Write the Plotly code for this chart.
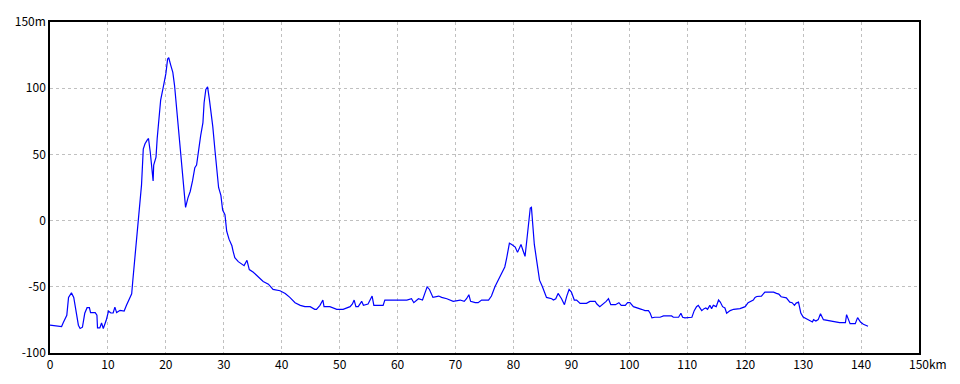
import plotly.graph_objects as go

km = [0, 2.0, 2.3, 2.9, 3.2, 3.7, 4.1, 4.5, 4.9, 5.2, 5.6, 6.0, 6.4, 6.8, 7.0, 7.8, 8.1, 8.2, 8.6, 8.9,
      9.2, 9.7, 10.1, 10.5, 10.9, 11.2, 11.5, 12.1, 12.8, 13.2, 13.8, 14.1, 14.3, 14.6, 14.9,
      15.2, 15.5, 15.8, 16.1, 16.4, 16.8, 17.0, 17.3, 17.6, 17.8, 17.9, 18.3, 18.5, 18.9, 19.1,
      19.6, 20.0, 20.3, 20.5, 20.8, 21.2, 21.5, 21.8, 22.0, 22.4, 22.8, 23.1, 23.4, 23.8, 24.2,
      24.6, 25.0, 25.3, 25.6, 26.0, 26.4, 26.6, 26.9, 27.2, 27.5, 27.8, 28.1, 28.5, 28.8, 29.1,
      29.5, 29.8, 30.2, 30.5, 30.9, 31.4, 31.6, 31.9, 32.5, 33.1, 33.5, 34.0, 34.4, 35.1, 36.0,
      36.8, 37.7, 38.5, 39.7, 40.6, 41.4, 42.3, 43.2, 44.0, 44.9, 45.7, 46.0, 46.6, 47.1, 47.3,
      48.3, 49.5, 50.6, 51.8, 52.2, 52.5, 52.8, 53.2, 53.8, 54.1, 54.9, 55.4, 55.6, 55.9, 57.5,
      57.8, 58.7, 60.4, 61.6, 62.4, 62.8, 63.6, 64.3, 64.7, 65.1, 65.5, 66.1, 67.1, 67.6, 68.5,
      69.6, 70.8, 71.5, 71.9, 72.3, 72.6, 73.4, 73.9, 74.5, 75.7, 76.2, 76.8, 77.4, 78.0, 78.5,
      78.8, 79.3, 79.7, 80.3, 80.7, 81.3, 81.6, 82.0, 82.3, 82.6, 82.9, 83.1, 83.3, 83.6, 84.0,
      84.5, 85.0, 85.7, 86.6, 86.9, 87.3, 87.7, 88.3, 88.8, 89.2, 89.6, 90.0, 90.5, 90.9, 91.5,
      92.6, 93.2, 94.1, 94.4, 94.9, 95.5, 96.0, 96.4, 96.8, 97.6, 98.2, 98.6, 99.3, 99.7, 100.1,
      100.7, 101.6, 102.1, 102.7, 103.3, 103.6, 103.9, 104.4, 105.3, 105.9, 107.3, 107.6, 108.5,
      108.9, 109.2, 109.6, 110.8, 111.2, 111.6, 111.9, 112.5, 112.9, 113.2, 113.5, 113.9, 114.2,
      114.5, 115.0, 115.4, 115.7, 116.1, 116.5, 116.8, 117.4, 118.0, 119.1, 120.0, 120.5, 120.8,
      121.4, 121.7, 122.0, 122.8, 123.4, 123.6, 124.9, 125.4, 125.8, 126.2, 127.1, 127.7, 128.1,
      128.5, 128.8, 129.2, 129.6, 130.0, 130.6, 131.2, 131.6, 131.8, 132.2, 132.6, 133.0, 133.5,
      134.1, 135.2, 136.3, 137.3, 137.5, 138.1, 139.0, 139.4, 139.9, 140.4, 141.2]

elev = [-79, -80, -77, -71.5, -58, -54.6, -58, -70, -79, -81.5, -80.5, -70, -65.8, -65.8, -69.5, -69.5, -71.5, -81, -81, -77.3,
        -81.5, -75.3, -68.3, -69.8, -69.8, -65.4, -69.5, -67.8, -68.3, -64, -59, -55.3, -45, -30, -15,
        1, 18, 27, 54, 58, 61, 62, 52, 36, 30, 42, 48, 62, 79, 91,
        102, 111, 122, 123, 118, 112, 102, 88, 74, 57, 36, 22, 10, 17, 22,
        30, 40, 42, 52, 64, 74, 89, 99, 101, 92, 82, 71, 52, 39, 25,
        19, 8, 4.5, -8, -14, -19, -23, -28, -31, -33, -34, -30, -37, -39, -43,
        -46, -48, -52, -53, -55, -58, -62, -64, -65, -65, -67, -67, -64, -60, -65,
        -65, -67, -67, -65, -63, -60, -65, -65, -61, -64, -63, -58, -57, -64, -64,
        -60, -60, -60.5, -60, -59, -62, -59, -60, -55, -50, -52, -58, -57, -58, -59,
        -61, -60, -61, -59, -56, -61, -62, -62, -60, -60, -57, -50, -45, -40, -35,
        -29, -17, -18, -20, -24, -18, -22, -27, -15, 0, 9.5, 10, 1, -18, -30,
        -45, -50, -58, -59, -60, -59, -55, -59, -63.5, -57, -52, -54, -60, -60, -62.5,
        -62.5, -61, -61, -63, -65, -63, -61, -59, -63.5, -63.5, -62, -64, -64, -62, -62,
        -65, -66, -67, -68, -68, -70, -73.5, -73, -73, -72, -72, -73, -73,
        -70, -73, -73.5, -73, -68, -65, -64, -68, -66.5, -66, -67, -64, -66.5,
        -64, -65, -60, -61.5, -65, -66, -70, -68, -67, -66.5, -65, -62, -61.5,
        -60, -58, -57.3, -57, -54, -54, -54, -55, -55.5, -57.5, -58.3, -61.6, -62,
        -64, -62.3, -61.6, -69.8, -72.8, -74, -75.3, -76.6, -74.8, -75.8, -74.8, -70.3, -74.8,
        -75.3, -76, -77, -77, -71, -77.8, -77.8, -73.3, -76.6, -78.3, -79.8]

x_ticks = [0, 10, 20, 30, 40, 50, 60, 70, 80, 90, 100, 110, 120, 130, 140, 150]
x_labels = ["0", "10", "20", "30", "40", "50", "60", "70", "80", "90", "100", "110", "120", "130", "140", "150km"]
y_ticks = [-100, -50, 0, 50, 100, 150]
y_labels = ["-100", "-50", "0", "50", "100", "150m"]

FONT = "Noto Sans CJK JP"

# keep the number of the last x label centred on its tick: pad it with an invisible copy of the unit
x_ticktext = list(x_labels)
x_ticktext[-1] = "<span style='color:rgba(0,0,0,0)'>km</span>" + x_labels[-1]

fig = go.Figure()
fig.add_trace(go.Scatter(x=km, y=elev, mode="lines",
                         line=dict(color="#0000ff", width=1.2), hoverinfo="skip"))

fig.update_layout(
    width=960, height=384,
    margin=dict(l=50, r=41, t=19, b=31),
    paper_bgcolor="white", plot_bgcolor="white",
    showlegend=False,
    font=dict(family=FONT, size=12, color="black"),
    xaxis=dict(range=[0, 150], tickvals=x_ticks, ticktext=x_ticktext,
               showgrid=True, gridcolor="#c0c0c0", griddash="3px,3px", gridwidth=1,
               showline=True, linecolor="black", linewidth=1.5, mirror=True,
               ticks="", zeroline=False, fixedrange=True),
    yaxis=dict(range=[-100, 150], tickvals=y_ticks, ticktext=y_labels,
               showgrid=True, gridcolor="#c0c0c0", griddash="3px,3px", gridwidth=1,
               showline=True, linecolor="black", linewidth=1.5, mirror=True,
               ticks="", zeroline=False, fixedrange=True),
)

fig.write_html("out.html")
